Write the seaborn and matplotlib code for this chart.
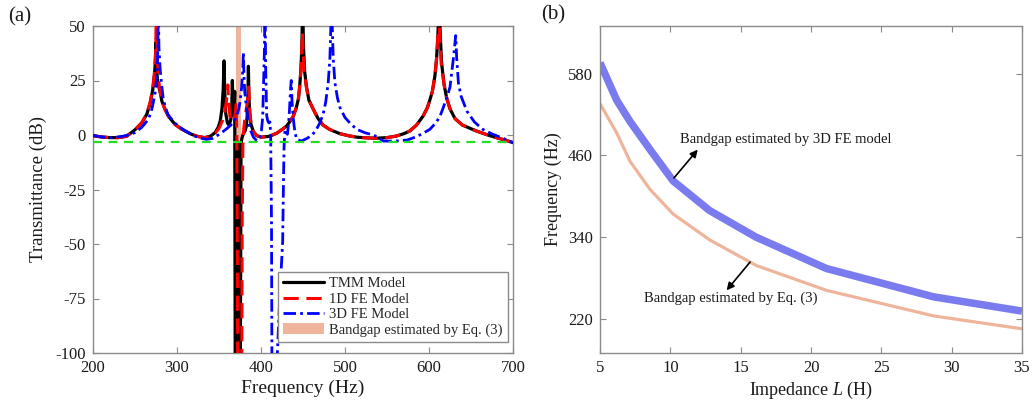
import matplotlib
matplotlib.use("Agg")
import matplotlib.pyplot as plt
import seaborn as sns
from matplotlib.patches import Patch
from matplotlib.lines import Line2D

# ---------------- (a) transmittance spectra ----------------
tmm_freq = [200, 210, 220, 230, 240, 250, 258, 264, 268, 271,
            273, 274.2, 275, 275.8, 277, 279.8, 282, 285.7, 290, 297.6,
            305, 317.5, 325, 333, 340, 345.3, 349, 351.5, 353.5, 355,
            356, 356.8, 358, 360, 362, 364, 365.2, 365.9, 366.6, 367.5,
            368.2, 368.7, 369.4, 370.2, 370.8, 372, 373.5, 374.6, 375.2, 376.2,
            377, 379, 381, 382.5, 383.8, 384.5, 385, 385.6,
            386.5, 388, 391, 395, 400, 410, 418.6, 425, 430.5, 435,
            438.5, 442, 444.5, 446, 447.5, 448.6, 449.6, 450.6, 452, 454,
            457, 462, 468, 474, 482, 494, 505, 514, 525, 537,
            550, 561, 570, 577, 585, 593, 598, 601, 604, 607,
            609, 610.5, 612, 613.5, 615, 618, 621, 625, 631, 640,
            656.7, 670, 680, 692, 700]
tmm_db = [-0.3, -0.9, -1.2, -1.2, -0.6, 2.4, 5.5, 9.5, 14.5, 20.5,
          27, 33, 42.5, 30, 24, 20, 15.5, 11.8, 8.5, 4.9,
          2.8, 0.3, -0.7, -1.2, -0.5, 1.1, 3.5, 6.5, 12, 21,
          34, 20, 10, 5.5, 4.5, 7, 13, 25, 13, 9,
          13, 20, -130, -130, -10, -3, -6, -130, -130, -5,
          -2, 0.8, 1.8, 4, 10, 19, 31.5, 18,
          10, 5, 1.5, -0.3, -1.0, -0.6, 0.8, 2.5, 4.1, 6.5,
          8.7, 12.5, 16.5, 22, 30, 40, 60, 40, 29, 22.5,
          16, 12, 7.5, 4.5, 2.5, 0.6, -0.4, -1.0, -1.3, -1.5,
          -1.2, -0.5, 0.6, 1.8, 4.5, 8.7, 12.5, 16, 20, 27,
          35, 45, 60, 45, 33, 23, 17, 12, 7.5, 4.5,
          1.8, 0.0, -1.2, -2.5, -3.5]

fe1_freq = [200, 210, 220, 230, 240, 250, 258, 264, 268, 271,
            273, 274.5, 275.5, 276.3, 277.5, 280, 282, 285.7, 290, 297.6,
            305, 317.5, 325, 333, 340, 345.3, 350, 354, 357, 359,
            360.5, 361.5, 363, 365, 367, 369, 370.3, 371.2, 371.8, 372.4,
            377, 377.6, 378.4, 379.5, 381, 382.5, 384, 385.3, 386.3, 388,
            391, 395, 400, 410, 418.6, 425, 430.5, 435, 438.5, 442,
            444.5, 446, 447.5, 448.5, 449.3, 450.2, 451.5, 454, 457, 462,
            468, 474, 482, 494, 505, 514, 525, 537, 550, 561,
            570, 577, 585, 593, 598, 601, 604, 607, 609, 610.5,
            611.6, 612.8, 614.5, 618, 621, 625, 631, 640, 656.7, 670,
            680, 692, 700]
fe1_db = [-0.3, -0.9, -1.2, -1.2, -0.6, 2.4, 5.6, 9.8, 15, 21,
          28, 38, 60, 38, 27, 19.5, 15.5, 11.8, 8.5, 4.9,
          2.8, 0.3, -0.7, -1.2, -0.6, 0.8, 3, 6.5, 11, 16,
          23, 15, 8.5, 6, 6.5, 9, 14, 0, -50, -130,
          -130, -40, -5, 3, 8, 12, 16, 22, 13, 5.5,
          1.5, -0.3, -1.0, -0.6, 0.8, 2.5, 4.1, 6.5, 8.7, 12.5,
          16.5, 22, 30, 38, 47, 38, 29, 22, 16, 12,
          7.5, 4.5, 2.5, 0.6, -0.4, -1.0, -1.3, -1.5, -1.2, -0.5,
          0.6, 1.8, 4.5, 8.7, 12.5, 16, 20, 27, 35, 45,
          60, 45, 33, 23, 17, 12, 7.5, 4.5, 1.8, 0.0,
          -1.2, -2.5, -3.5]

fe3_freq = [200, 210, 222, 235, 245, 250, 258, 265.9, 269.5, 271.8,
            274, 276, 277.2, 277.8, 278.5, 280, 281.8, 283.5, 285.7, 289,
            293.7, 300, 309.5, 317, 325.4, 335, 343, 351, 358, 364,
            367, 371, 373.5, 375, 377, 378.3, 379, 379.7, 380.6, 382,
            384, 387, 391, 395, 398, 400.5, 402, 403, 404, 404.8,
            405.6, 406.8, 408, 409.5, 410.7, 411.5, 412.5, 413.2, 419, 419.5,
            422.6, 425.8, 426.8, 427.5, 428.6, 430, 431.4, 432.8, 434, 435,
            436, 437, 438.5, 440.5, 442.5, 448, 455, 461, 466, 470,
            474, 477, 480, 482, 484, 486, 488, 491, 494, 500,
            507, 514, 524, 534, 546, 560, 574, 585, 593, 601,
            608, 613, 617, 621, 625, 629, 631.8, 633, 635, 638,
            645, 654, 664, 675, 688, 700]
fe3_db = [-0.2, -0.9, -1.2, -0.6, 0.3, 1.1, 3.5, 7.2, 11, 15,
          19.5, 27, 40, 60, 40, 30, 22.6, 17, 13.4, 9.5,
          7.2, 4.5, 1.9, 0.2, -1.2, -2.0, -1.5, 0.5, 2.5, 4.5,
          5.7, 8.5, 12, 15, 22, 30, 38, 28, 20, 15,
          8, 2.6, -1, -2.7, -2, 2, 8, 22.6, 38, 60,
          30, 8.8, 6.5, 5.5, 6, 0, -40, -130, -130, -100,
          -72, -49, -20, -5, 2.6, 1, 0.3, 5, 12, 20,
          25, 15, 7.2, 1, -2, -2.8, -1.5, 0, 2.6, 5.5,
          9.6, 15, 24, 35, 60, 35, 24, 17, 12.6, 8,
          5, 2.6, 1, 0, -2.8, -2.8, -2.3, -0.8, 0.8, 2.6,
          5.5, 8.5, 12.6, 17, 22, 35, 45.6, 35, 24, 18,
          11, 6, 2.6, 0.5, -1.5, -3.5]

ref_freq = [200, 700]
ref_db = [-3, -3]
bandgap_eq3 = [370, 376]

# ---------------- (b) bandgap versus inductance ----------------
inductance = [5, 6.19, 7.13, 8.56, 10.2, 12.8, 16.1, 21.1, 28.7, 35]
gap_fe3 = [596, 541, 510, 468.5, 422.5, 379, 340, 294, 252.5, 231.5]
gap_eq3 = [536, 493, 451.5, 410, 374, 336, 298.5, 262, 224.5, 205.5]

# ---------------- styling ----------------
sns.set_theme(style="ticks")
plt.rcParams["font.family"] = ["Liberation Serif", "DejaVu Serif"]
plt.rcParams["mathtext.fontset"] = "custom"
plt.rcParams["mathtext.rm"] = "Liberation Serif"
plt.rcParams["mathtext.it"] = "Liberation Serif:italic"
plt.rcParams["axes.unicode_minus"] = False

SPINE = "#8a8a8a"
TEXT = "#1a1a1a"
SALMON = "#eeb59c"
PERIWINKLE = "#7b7bf0"
GREEN = "#22dd22"
RED_DASH = (0, (5, 2.5))
BLUE_DASHDOT = (0, (4.5, 1.5, 1, 1.5))


def style_axes(ax):
    for s in ax.spines.values():
        s.set_visible(True)
        s.set_color(SPINE)
        s.set_linewidth(1.0)
    ax.tick_params(direction="in", length=4, width=0.8, color=SPINE,
                   labelsize=12, labelcolor=TEXT, top=True, right=True, pad=5)


fig = plt.figure(figsize=(10.34, 4.09), dpi=100)
ax1 = fig.add_axes([93 / 1034, 56 / 409, 420 / 1034, 327 / 409])
ax2 = fig.add_axes([600 / 1034, 56 / 409, 422 / 1034, 327 / 409])

# (a)
ax1.axvspan(bandgap_eq3[0], bandgap_eq3[1], color=SALMON, lw=0, zorder=1)
sns.lineplot(x=tmm_freq, y=tmm_db, ax=ax1, color="black", lw=2.3,
             estimator=None, sort=False, zorder=3)
sns.lineplot(x=fe1_freq, y=fe1_db, ax=ax1, color="#ff0000", lw=2.2,
             linestyle=RED_DASH, estimator=None, sort=False, zorder=4)
sns.lineplot(x=fe3_freq, y=fe3_db, ax=ax1, color="#0000ff", lw=2.0,
             linestyle=BLUE_DASHDOT, estimator=None, sort=False, zorder=5)
sns.lineplot(x=ref_freq, y=ref_db, ax=ax1, color=GREEN, lw=1.6,
             linestyle=(0, (4, 3)), estimator=None, sort=False, zorder=6)

ax1.set_xlim(200, 700)
ax1.set_ylim(-100, 50)
ax1.set_xticks([200, 300, 400, 500, 600, 700])
ax1.set_yticks([-100, -75, -50, -25, 0, 25, 50])
style_axes(ax1)
ax1.set_xlabel("Frequency (Hz)", fontsize=14, color=TEXT, labelpad=3)
ax1.set_ylabel("Transmittance (dB)", fontsize=13.5, color=TEXT, labelpad=6)

handles = [
    Line2D([], [], color="black", lw=2.3),
    Line2D([], [], color="#ff0000", lw=2.2, linestyle=RED_DASH),
    Line2D([], [], color="#0000ff", lw=2.0, linestyle=BLUE_DASHDOT),
    Patch(facecolor=SALMON, edgecolor="none"),
]
labels = ["TMM Model", "1D FE Model", "3D FE Model", "Bandgap estimated by Eq. (3)"]
leg = ax1.legend(handles, labels, loc="lower right", bbox_to_anchor=(0.988, 0.034),
                 borderaxespad=0, fontsize=10.5, frameon=True, fancybox=False,
                 framealpha=1, edgecolor=SPINE, handlelength=2.8, handletextpad=0.4,
                 labelspacing=0.15, borderpad=0.35)
leg.get_frame().set_linewidth(1.0)
leg.set_zorder(10)

# (b)
sns.lineplot(x=inductance, y=gap_fe3, ax=ax2, color=PERIWINKLE, lw=5.4,
             estimator=None, sort=False, solid_capstyle="butt")
sns.lineplot(x=inductance, y=gap_eq3, ax=ax2, color=SALMON, lw=2.3,
             estimator=None, sort=False, solid_capstyle="butt")
ax2.set_xlim(5, 35)
ax2.set_ylim(170, 650)
ax2.set_xticks([5, 10, 15, 20, 25, 30, 35])
ax2.set_yticks([220, 340, 460, 580])
style_axes(ax2)
ax2.set_xlabel("Impedance $L$ (H)", fontsize=13, color=TEXT, labelpad=3)
ax2.set_ylabel("Frequency (Hz)", fontsize=13, color=TEXT, labelpad=4)

arrow = dict(arrowstyle="-|>", color="black", lw=1.2, mutation_scale=11,
             shrinkA=0, shrinkB=0)
ax2.annotate("", xy=(11.95, 468.5), xytext=(10.26, 427), arrowprops=arrow)
ax2.text(10.7, 483, "Bandgap estimated by 3D FE model", fontsize=10.5,
         color=TEXT, ha="left", va="center")
ax2.annotate("", xy=(14.0, 262), xytext=(15.67, 303.5), arrowprops=arrow)
ax2.text(8.13, 251, "Bandgap estimated by Eq. (3)", fontsize=10.5,
         color=TEXT, ha="left", va="center")

fig.text(8 / 1034, 1 - 17 / 409, "(a)", fontsize=15, color=TEXT, ha="left", va="center")
fig.text(541 / 1034, 1 - 15 / 409, "(b)", fontsize=15, color=TEXT, ha="left", va="center")

fig.savefig("out.png", dpi=100)
